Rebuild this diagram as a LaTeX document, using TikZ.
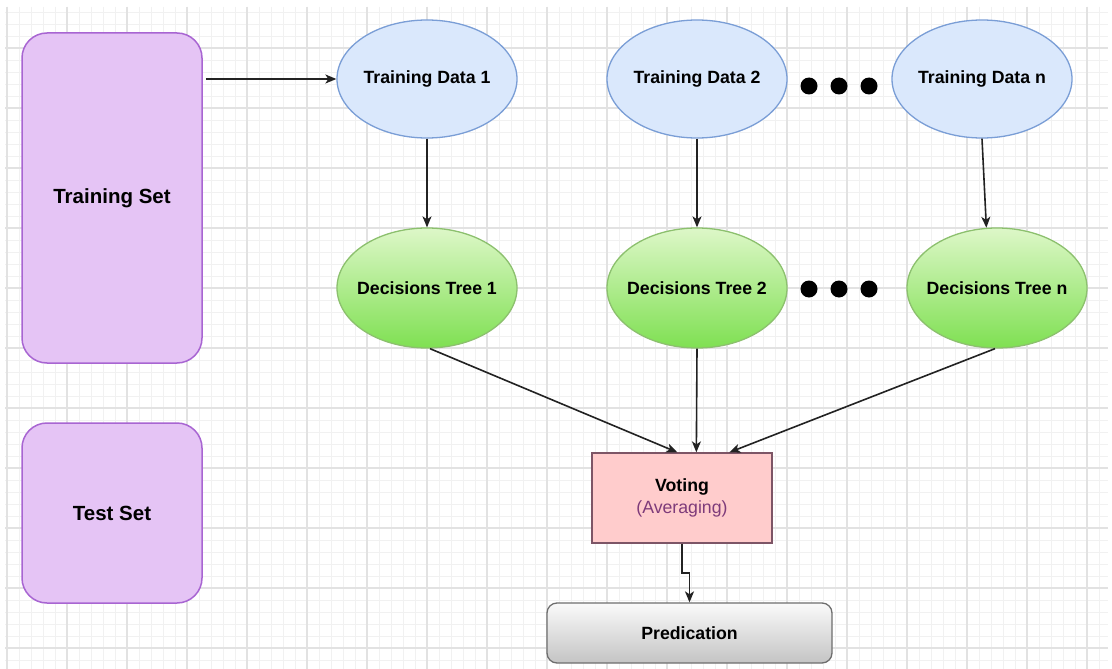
\documentclass[tikz,border=0pt]{standalone}
\usepackage{fontspec}
\setmainfont{Liberation Sans}
\usetikzlibrary{shapes.geometric,arrows.meta,calc}
\definecolor{gridminor}{HTML}{F1F1F1}
\definecolor{gridmajor}{HTML}{E2E2E2}
\definecolor{setfill}{HTML}{E5C4F5}
\definecolor{setdraw}{HTML}{A865D2}
\definecolor{tdfill}{HTML}{DAE8FC}
\definecolor{tddraw}{HTML}{7A9ED6}
\definecolor{dttop}{HTML}{DDF7C8}
\definecolor{dtbot}{HTML}{7FE052}
\definecolor{dtdraw}{HTML}{8CC06E}
\definecolor{votefill}{HTML}{FFCCCC}
\definecolor{votedraw}{HTML}{7D5566}
\definecolor{avgcol}{HTML}{7E3B7A}
\definecolor{predtop}{HTML}{FAFAFA}
\definecolor{predbot}{HTML}{C4C4C4}
\definecolor{predraw}{HTML}{6E6E6E}
\definecolor{arrowcol}{HTML}{222222}
\newcommand{\fitlabel}[1]{\makebox[100pt]{#1}}
\begin{document}
\begin{tikzpicture}[x=1pt,y=-1pt,
  setbox/.style={draw=setdraw,fill=setfill,line width=1.5pt,rounded corners=25pt,
    minimum width=180pt,minimum height=#1,inner sep=0pt,
    font=\fontsize{20.5}{24}\selectfont\bfseries},
  tdnode/.style={ellipse,draw=tddraw,fill=tdfill,line width=1.3pt,
    minimum width=180pt,minimum height=118pt,inner sep=0pt,
    font=\fontsize{17.7}{21}\selectfont\bfseries},
  dtnode/.style={ellipse,draw=dtdraw,top color=dttop,bottom color=dtbot,line width=1.3pt,
    minimum width=180pt,minimum height=120pt,inner sep=0pt,
    font=\fontsize{17.7}{21}\selectfont\bfseries},
  dotnode/.style={circle,fill=black,minimum size=17pt,inner sep=0pt},
  votebox/.style={draw=votedraw,fill=votefill,line width=1.3pt,
    minimum width=180pt,minimum height=90pt,inner sep=0pt,align=center,
    font=\fontsize{17.7}{22}\selectfont},
  predbox/.style={draw=predraw,top color=predtop,bottom color=predbot,line width=1.3pt,
    rounded corners=10pt,minimum width=285pt,minimum height=60pt,inner sep=0pt,
    font=\fontsize{17.7}{21}\selectfont\bfseries},
  conn/.style={draw=arrowcol,line width=1.6pt,-{Stealth[length=11pt,width=9pt,inset=3pt]}}
]
\useasboundingbox (0,0) rectangle (1112,669);
\fill[white] (0,0) rectangle (1112,669);
% grid
\foreach \gx in {7,19,...,1107} \draw[gridminor,line width=0.8pt] (\gx,7) -- (\gx,669);
\foreach \gy in {12,24,...,668} \draw[gridminor,line width=0.8pt] (5,\gy) -- (1108,\gy);
\foreach \gx in {7,67,...,1107} \draw[gridmajor,line width=1.1pt] (\gx,7) -- (\gx,669);
\foreach \gy in {48,108,...,668} \draw[gridmajor,line width=1.1pt] (5,\gy) -- (1108,\gy);

% nodes
\node[setbox=330pt] (TS) at (112,198) {Training Set};
\node[setbox=180pt] (TeS) at (112,513) {Test Set};

\node[tdnode] (TD1) at (427,79) {\fitlabel{Training Data 1}};
\node[tdnode] (TD2) at (697,79) {\fitlabel{Training Data 2}};
\node[tdnode] (TDn) at (982,79) {\fitlabel{Training Data n}};

\node[dtnode] (DT1) at (427,288) {\fitlabel{Decisions Tree 1}};
\node[dtnode] (DT2) at (697,288) {\fitlabel{Decisions Tree 2}};
\node[dtnode] (DTn) at (997,288) {\fitlabel{Decisions Tree n}};

\node[dotnode] (a1) at (809,86) {};
\node[dotnode] (a2) at (839,86) {};
\node[dotnode] (a3) at (869,86) {};
\node[dotnode] (b1) at (809,289) {};
\node[dotnode] (b2) at (839,289) {};
\node[dotnode] (b3) at (869,289) {};

\node[votebox] (V) at (682,498) {\textbf{Voting}\\\textcolor{avgcol}{(Averaging)}};
\node[predbox] (P) at (689.5,633) {Predication};

% connectors
\draw[conn] ([xshift=3pt]TS.east |- TD1.west) -- (TD1.west);
\draw[conn] (TD1.south) -- (DT1.north);
\draw[conn] (TD2.south) -- (DT2.north);
\draw[conn] (TDn.south) -- (DTn.100);
\draw[conn] ([xshift=3pt]DT1.south) -- ($(V.north west)+(86,0)$);
\draw[conn] (DT2.south) -- ($(V.north west)+(105,0)$);
\draw[conn] ([xshift=-2pt]DTn.south) -- ($(V.north west)+(138,0)$);
\draw[conn] (V.south) |- ($(V.south)!0.5!(P.north)$) -| (P.north);
\end{tikzpicture}
\end{document}
